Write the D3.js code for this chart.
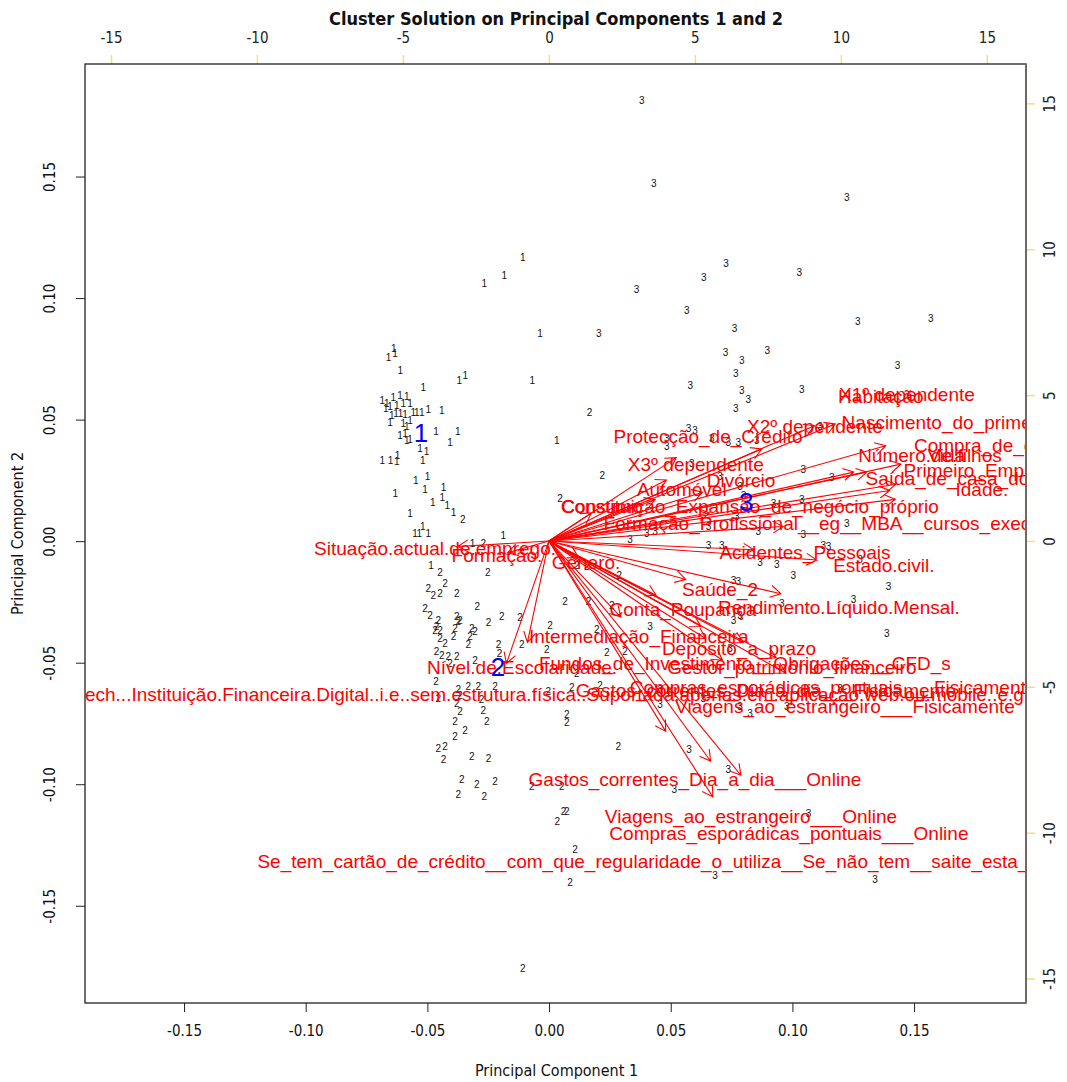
<!DOCTYPE html>
<html><head><meta charset="utf-8">
<script src="https://cdn.jsdelivr.net/npm/d3@7"></script>
<style>
html,body{margin:0;padding:0;background:#fff;}
svg{display:block;}
</style></head>
<body>
<svg id="chart" width="1067" height="1082"></svg>
<script>
// ---------------- DATA ----------------
const chartTitle = "Cluster Solution on Principal Components 1 and 2";
const xTitle = "Principal Component 1";
const yTitle = "Principal Component 2";
const pcTicks = [-0.15, -0.10, -0.05, 0.00, 0.05, 0.10, 0.15];
const loadTicks = [-15, -10, -5, 0, 5, 10, 15];

// observation scores (PC1, PC2), one list per cluster
const cluster1Points = [
[-0.0108,0.1169],[-0.0184,0.1093],[-0.0266,0.1062],[-0.0037,0.0854],[-0.0638,0.0792],[-0.0633,0.0771],
[-0.0660,0.0757],[-0.0611,0.0703],[-0.0369,0.0662],[-0.0344,0.0681],[-0.0069,0.0659],[-0.0517,0.0632],
[-0.0685,0.0580],[-0.0667,0.0566],[-0.0640,0.0593],[-0.0612,0.0600],[-0.0585,0.0596],[-0.0671,0.0545],
[-0.0653,0.0552],[-0.0626,0.0559],[-0.0599,0.0566],[-0.0571,0.0566],[-0.0558,0.0531],[-0.0544,0.0531],
[-0.0646,0.0518],[-0.0629,0.0525],[-0.0610,0.0527],[-0.0592,0.0522],[-0.0571,0.0497],[-0.0653,0.0490],
[-0.0599,0.0484],[-0.0585,0.0470],[-0.0612,0.0436],[-0.0592,0.0443],[-0.0571,0.0418],[-0.0585,0.0415],
[-0.0523,0.0531],[-0.0496,0.0541],[-0.0441,0.0536],[-0.0464,0.0452],[-0.0375,0.0452],[-0.0407,0.0406],
[0.0032,0.0415],[-0.0530,0.0381],[-0.0503,0.0367],[-0.0519,0.0333],[-0.0685,0.0333],[-0.0651,0.0333],
[-0.0623,0.0353],[-0.0626,0.0326],[-0.0548,0.0251],[-0.0499,0.0264],[-0.0632,0.0196],[-0.0510,0.0212],
[-0.0434,0.0221],[-0.0478,0.0157],[-0.0439,0.0180],[-0.0418,0.0148],[-0.0393,0.0116],[-0.0571,0.0114],
[-0.0551,0.0032],[-0.0519,0.0062],[-0.0533,0.0032],[-0.0496,0.0032],[-0.0188,0.0025],[-0.0314,-0.0009],
[-0.0485,-0.0099]
];
const cluster2Points = [
[0.0166,0.0531],[0.0219,0.0271],[-0.0355,0.0089],[0.0045,0.0175],[-0.0270,-0.0009],
[-0.0448,-0.0130],[-0.0427,-0.0174],[-0.0496,-0.0194],[-0.0476,-0.0222],[-0.0448,-0.0215],[-0.0379,-0.0215],
[-0.0252,-0.0130],[-0.0510,-0.0277],[-0.0489,-0.0304],[-0.0455,-0.0325],[-0.0462,-0.0352],[-0.0469,-0.0366],
[-0.0448,-0.0366],[-0.0379,-0.0311],[-0.0373,-0.0332],[-0.0386,-0.0359],[-0.0366,-0.0325],[-0.0295,-0.0267],
[-0.0194,-0.0308],[-0.0119,-0.0314],[-0.0249,-0.0336],[-0.0318,-0.0359],[-0.0304,-0.0373],[-0.0325,-0.0393],
[-0.0332,-0.0427],[-0.0448,-0.0400],[-0.0427,-0.0420],[-0.0393,-0.0393],[-0.0462,-0.0455],[-0.0441,-0.0469],
[-0.0414,-0.0476],[-0.0379,-0.0473],[-0.0407,-0.0503],[-0.0304,-0.0489],[-0.0208,-0.0427],[-0.0204,-0.0462],
[-0.0112,-0.0425],[-0.0009,-0.0445],[0.0004,-0.0345],[0.0066,-0.0249],[0.0162,-0.0249],[0.0258,-0.0263],
[0.0196,-0.0363],[0.0237,-0.0459],[-0.0464,-0.0578],[-0.0455,-0.0646],[-0.0373,-0.0612],[-0.0366,-0.0633],
[-0.0332,-0.0596],[-0.0291,-0.0599],[-0.0277,-0.0653],[-0.0270,-0.0695],[-0.0256,-0.0743],[-0.0379,-0.0667],
[-0.0366,-0.0702],[-0.0386,-0.0743],[-0.0345,-0.0777],[-0.0386,-0.0804],[-0.0455,-0.0852],[-0.0427,-0.0845],
[-0.0434,-0.0900],[-0.0318,-0.0887],[-0.0249,-0.0893],[-0.0359,-0.0982],[-0.0297,-0.1003],[-0.0222,-0.0989],
[-0.0373,-0.1044],[-0.0266,-0.1051],[-0.0071,-0.1010],[0.0052,-0.1010],[-0.0222,-0.0599],[-0.0003,-0.0619],
[0.0093,-0.0601],[0.0073,-0.0715],[0.0073,-0.0747],[0.0285,-0.0845],[0.0059,-0.1113],[0.0073,-0.1113],
[0.0034,-0.1154],[0.0107,-0.1267],[0.0086,-0.1404],[-0.0108,-0.1760],[0.0114,-0.0099],[0.0155,-0.0103],
[0.0289,-0.0140],[0.0312,-0.0455],[0.0114,-0.0544],[0.0210,-0.0592]
];
const cluster3Points = [
[0.0204,0.0856],[0.0381,0.1813],[0.0430,0.1470],[0.1224,0.1413],[0.0727,0.1141],[0.0636,0.1084],
[0.1028,0.1104],[0.0360,0.1036],[0.0566,0.0949],[0.0762,0.0874],[0.1269,0.0905],[0.1569,0.0917],
[0.0725,0.0776],[0.0792,0.0744],[0.0897,0.0785],[0.1432,0.0723],[0.0580,0.0641],[0.0767,0.0689],
[0.0792,0.0621],[0.0819,0.0582],[0.1039,0.0623],[0.0767,0.0545],[0.0573,0.0463],[0.0600,0.0456],
[0.0484,0.0422],[0.0484,0.0388],[0.0669,0.0422],[0.0737,0.0404],[0.0778,0.0404],[0.0854,0.0415],
[0.1114,0.0470],[0.0587,0.0319],[0.0703,0.0264],[0.1045,0.0295],[0.1162,0.0262],[0.0785,0.0223],
[0.0799,0.0189],[0.1039,0.0171],[0.0922,0.0155],[0.0771,0.0100],[0.1224,0.0073],[0.0655,0.0059],
[0.0860,0.0038],[0.1045,0.0029],[0.0333,0.0007],[0.0402,0.0032],[0.0436,0.0038],[0.0655,-0.0016],
[0.0710,-0.0016],[0.1127,-0.0016],[0.1148,-0.0023],[0.0867,-0.0089],[0.0936,-0.0095],[0.1004,-0.0140],
[0.1278,-0.0075],[0.0758,-0.0160],[0.0778,-0.0167],[0.1395,-0.0188],[0.0956,-0.0256],[0.1251,-0.0240],
[0.0758,-0.0325],[0.0785,-0.0304],[0.0415,-0.0352],[0.1388,-0.0379],[0.0744,-0.0441],[0.0456,-0.0612],
[0.0456,-0.0674],[0.0634,-0.0646],[0.0785,-0.0681],[0.0826,-0.0708],[0.0977,-0.0681],[0.1196,-0.0605],
[0.0575,-0.0859],[0.0737,-0.0941],[0.0515,-0.1023],[0.1066,-0.1119],[0.0682,-0.1377],[0.1340,-0.1393]
];
const clusterIds = ["1", "2", "3"];
const centerPC1 = [-0.0526, -0.0210, 0.0810];
const centerPC2 = [0.0444, -0.0518, 0.0160];

// variable loadings (label positions, top/right axis units)
const varNames = [
"X1º dependente","Habitação","X2º dependente","Protecção_de_Crédito","X3º dependente","Divórcio",
"Automóvel","Constituição_Expansão_de_negócio_próprio","Consumo","Acidentes_Pessoais","Estado.civil.",
"Saúde_2","Rendimento.Líquido.Mensal.","Conta_Poupança","Intermediação_Financeira","Depósito_a_prazo",
"Fundos_de_Investimento__Obrigações__CFD_s","Gestor_património_financeiro","Nível.de.Escolaridade.",
"Viagens_ao_estrangeiro___Fisicamente","Gastos_correntes_Dia_a_dia___Online","Viagens_ao_estrangeiro___Online",
"Compras_esporádicas_pontuais___Online",
"Se_tem_cartão_de_crédito__com_que_regularidade_o_utiliza__Se_não_tem__saite_esta_questão_seguinte_abaixo.",
"Situação.actual.de.emprego.","Formação.","Género.",
"Utilizaria_uma_Fintech...Instituição.Financeira.Digital..i.e..sem.estrutura.física..Suportada.apenas.em.aplicação.web.ou.mobile..e.g..N26",
"Compras_esporádicas_pontuais___Fisicamente","Gastos_correntes_Dia_a_dia___Fisicamente",
"Nascimento_do_primeiro_filho","Compra_de_casa","Número.de.filhos","Vida","Primeiro_Emprego",
"Saída_de_casa_dos_pais","Idade.","Formação_Profissional__eg__MBA__cursos_executivos"
];
const loadX = [12.26,11.37,9.11,5.45,5.03,6.58,4.55,6.88,1.82,8.77,11.47,5.86,9.93,4.59,3.08,6.51,6.71,8.32,-0.92,
10.14,5.00,6.92,8.22,7.02,-3.90,-1.78,1.27,-1.82,9.73,7.43,14.42,15.07,13.05,13.61,14.86,14.59,14.83,10.03];
const loadY = [5.01,4.94,3.94,3.57,2.61,2.09,1.78,1.20,1.20,-0.38,-0.82,-1.65,-2.26,-2.33,-3.26,-3.67,-4.18,-4.35,-4.35,
-5.66,-8.16,-9.43,-10.04,-10.97,-0.24,-0.51,-0.72,-5.25,-5.01,-5.11,4.08,3.29,2.95,2.95,2.43,2.16,1.78,0.62];

// ---------------- LAYOUT ----------------
const box = {l: 85, r: 1026, t: 64, b: 1003};
const svg = d3.select("#chart");
const x = d3.scaleLinear().domain([-0.1907, 0.1960]).range([box.l, box.r]);
const y = d3.scaleLinear().domain([-0.1900, 0.1963]).range([box.b, box.t]);
const xa = d3.scaleLinear().domain([-15.89, 16.34]).range([box.l, box.r]);
const ya = d3.scaleLinear().domain([-15.84, 16.35]).range([box.b, box.t]);

const narrow = "'Liberation Sans Narrow','Arial Narrow','DejaVu Sans Condensed',sans-serif";
const sans = "'Liberation Sans',Arial,Helvetica,sans-serif";

svg.append("defs").append("clipPath").attr("id","clipBox")
  .append("rect").attr("x",box.l).attr("y",box.t).attr("width",box.r-box.l).attr("height",box.b-box.t);

// title
svg.append("text").attr("x",556).attr("y",25).attr("text-anchor","middle")
  .attr("font-family",narrow).attr("font-weight","bold").attr("font-size",18).attr("fill","#111").text(chartTitle);

// bottom axis
const fmt2 = d => d.toFixed(2);
const gB = svg.append("g").attr("transform",`translate(0,${box.b})`)
  .call(d3.axisBottom(x).tickValues(pcTicks).tickFormat(fmt2).tickSize(9).tickPadding(13));
gB.select(".domain").remove();
gB.selectAll("text").attr("font-family",narrow).attr("font-size",15).attr("fill","#111");
gB.selectAll("line").attr("stroke","#222");

// left axis
const gL = svg.append("g").attr("transform",`translate(${box.l},0)`)
  .call(d3.axisLeft(y).tickValues(pcTicks).tickFormat(fmt2).tickSize(9).tickPadding(0));
gL.select(".domain").remove();
gL.selectAll("line").attr("stroke","#222");
gL.selectAll("text").attr("font-family",narrow).attr("font-size",15).attr("fill","#111")
  .attr("text-anchor","middle").attr("x",0).attr("dy",0)
  .attr("transform","translate(-30,0) rotate(-90)");

// top axis
const gT = svg.append("g").attr("transform",`translate(0,${box.t})`)
  .call(d3.axisTop(xa).tickValues(loadTicks).tickFormat(d => String(d)).tickSize(9).tickPadding(12));
gT.select(".domain").remove();
gT.selectAll("line").attr("stroke","#eee27a").attr("stroke-width",1.5);
gT.selectAll("text").attr("font-family",narrow).attr("font-size",15).attr("fill","#222");

// right axis
const gR = svg.append("g").attr("transform",`translate(${box.r},0)`)
  .call(d3.axisRight(ya).tickValues(loadTicks).tickFormat(d => String(d)).tickSize(9).tickPadding(0));
gR.select(".domain").remove();
gR.selectAll("line").attr("stroke","#eee27a").attr("stroke-width",1.5);
gR.selectAll("text").attr("font-family",narrow).attr("font-size",15).attr("fill","#222")
  .attr("text-anchor","middle").attr("x",0).attr("dy",0)
  .attr("transform","translate(29,0) rotate(-90)");

// axis titles
svg.append("text").attr("x",(box.l+box.r)/2+1).attr("y",1076).attr("text-anchor","middle")
  .attr("font-family",narrow).attr("font-size",16).attr("fill","#111").text(xTitle);
svg.append("text").attr("transform",`translate(23,${(box.t+box.b)/2}) rotate(-90)`).attr("text-anchor","middle")
  .attr("font-family",narrow).attr("font-size",16).attr("fill","#111").text(yTitle);

// plotting layer (clipped)
const plot = svg.append("g").attr("clip-path","url(#clipBox)");

// observation labels
const pts = [];
[cluster1Points, cluster2Points, cluster3Points].forEach((arr,i) => arr.forEach(p => pts.push({pc1:p[0], pc2:p[1], id:clusterIds[i]})));
plot.selectAll("text.pt").data(pts).enter().append("text").attr("class","pt")
  .attr("x",d=>x(d.pc1)).attr("y",d=>y(d.pc2)).attr("dy","0.35em").attr("text-anchor","middle")
  .attr("font-family",sans).attr("font-size",10).attr("fill","#111").text(d=>d.id);

// arrows
const vars = varNames.map((n,i)=>({name:n, lx:loadX[i], ly:loadY[i]}));
const ox = xa(0), oy = ya(0);
const headLen = 12, headAng = Math.PI/6;
const arrowG = plot.append("g").attr("stroke","#ff0000").attr("stroke-width",1.1).attr("fill","none");
vars.forEach(v => {
  const tx = xa(v.lx*0.8), ty = ya(v.ly*0.8);
  const ang = Math.atan2(ty-oy, tx-ox);
  const p = d3.path();
  p.moveTo(ox,oy); p.lineTo(tx,ty);
  p.moveTo(tx - headLen*Math.cos(ang-headAng), ty - headLen*Math.sin(ang-headAng));
  p.lineTo(tx,ty);
  p.lineTo(tx - headLen*Math.cos(ang+headAng), ty - headLen*Math.sin(ang+headAng));
  arrowG.append("path").attr("d",p.toString());
});
plot.selectAll("text.var").data(vars).enter().append("text").attr("class","var")
  .attr("x",d=>xa(d.lx)).attr("y",d=>ya(d.ly)).attr("dy","0.35em").attr("text-anchor","middle")
  .attr("font-family",sans).attr("font-size",19).attr("fill","#ff0000").text(d=>d.name);

// cluster centres
plot.selectAll("text.ctr").data(clusterIds).enter().append("text").attr("class","ctr")
  .attr("x",(d,i)=>x(centerPC1[i])).attr("y",(d,i)=>y(centerPC2[i])).attr("dy","0.35em").attr("text-anchor","middle")
  .attr("font-family",sans).attr("font-size",26).attr("fill","#0000ff").text(d=>d);

// box
svg.append("rect").attr("x",box.l).attr("y",box.t).attr("width",box.r-box.l).attr("height",box.b-box.t)
  .attr("fill","none").attr("stroke","#222").attr("stroke-width",1.3);
svg.append("line").attr("x1",box.r).attr("x2",box.r).attr("y1",box.t).attr("y2",box.b)
  .attr("stroke","#6e6b5e").attr("stroke-width",2);
</script>
</body></html>
